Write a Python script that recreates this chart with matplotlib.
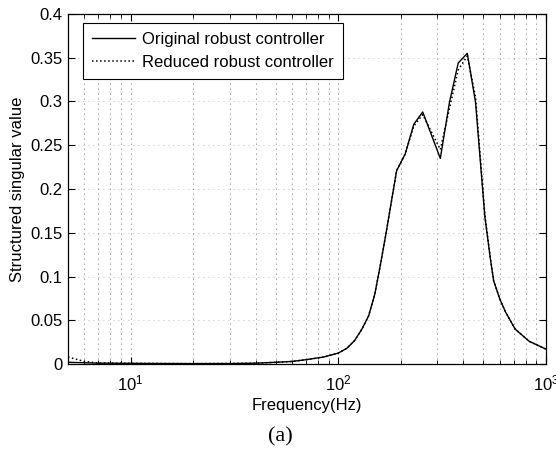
import matplotlib
matplotlib.use("Agg")
import matplotlib.pyplot as plt
from matplotlib.ticker import LogLocator, MultipleLocator, NullFormatter

plt.rcParams["font.family"] = "Liberation Sans"
plt.rcParams["mathtext.default"] = "regular"

# frequency points (Hz) and structured singular values
freq = [5, 6, 7, 8, 10, 15, 20, 30, 40, 50, 60, 70, 85, 100, 110, 120, 130, 140,
        150, 160, 170, 180, 191, 210, 231, 255, 310, 343, 378, 418, 458, 508,
        540, 560, 600, 640, 710, 830, 1000]
mu_original = [0.002, 0.0015, 0.001, 0.001, 0.0008, 0.0006, 0.0005, 0.0006, 0.001, 0.002,
               0.003, 0.005, 0.008, 0.0125, 0.018, 0.027, 0.040, 0.055,
               0.080, 0.115, 0.150, 0.185, 0.221, 0.240, 0.274, 0.288, 0.235, 0.299,
               0.344, 0.355, 0.299, 0.168, 0.120, 0.095, 0.074, 0.059, 0.040, 0.026, 0.017]
mu_reduced = [0.008, 0.003, 0.0012, 0.001, 0.0008, 0.0006, 0.0005, 0.0006, 0.001, 0.002,
              0.003, 0.005, 0.008, 0.0125, 0.018, 0.027, 0.040, 0.055,
              0.080, 0.115, 0.150, 0.185, 0.221, 0.240, 0.272, 0.285, 0.245, 0.292,
              0.336, 0.352, 0.305, 0.170, 0.121, 0.095, 0.074, 0.059, 0.040, 0.026, 0.017]

fig = plt.figure(figsize=(5.56, 4.5), dpi=100)
ax = fig.add_axes([0.1223, 0.191, 0.8597, 0.778])

ax.plot(freq, mu_original, color="black", linestyle="-", linewidth=1.0,
        label="Original robust controller")
ax.plot(freq, mu_reduced, color="black", linestyle=":", linewidth=1.1,
        label="Reduced robust controller")

ax.set_xscale("log")
ax.set_xlim(5, 1000)
ax.set_ylim(0, 0.4)
ax.yaxis.set_major_locator(MultipleLocator(0.05))
ax.yaxis.set_major_formatter(matplotlib.ticker.FuncFormatter(lambda v, p: f"{v:g}"))
ax.xaxis.set_major_locator(LogLocator(base=10))
ax.xaxis.set_minor_locator(LogLocator(base=10, subs=range(2, 10)))
ax.xaxis.set_minor_formatter(NullFormatter())

grid_style = dict(color="black", linestyle=(0, (1, 5)), linewidth=0.6)
ax.grid(True, which="both", axis="x", alpha=0.75, **grid_style)
ax.grid(True, which="major", axis="y", alpha=0.35, **grid_style)

ax.tick_params(which="both", direction="in", top=True, right=True, labelsize=12)
ax.tick_params(which="major", length=5, pad=4)
ax.tick_params(axis="x", which="major", pad=7)
ax.tick_params(which="minor", length=3)
for s in ax.spines.values():
    s.set_linewidth(0.9)

ax.set_xlabel("Frequency(Hz)", fontsize=12, labelpad=3)
ax.set_ylabel("Structured singular value", fontsize=12, labelpad=4)

leg = ax.legend(loc="upper left", bbox_to_anchor=(0.031, 0.975), fontsize=12,
                fancybox=False, framealpha=1, edgecolor="black", handlelength=2.6,
                borderpad=0.55, labelspacing=0.5, handletextpad=0.4, borderaxespad=0)
leg.get_frame().set_linewidth(0.8)

fig.text(0.505, 0.029, "(a)", ha="center", va="center", fontsize=16,
         family="Liberation Serif")

fig.savefig("out.png", dpi=100)
